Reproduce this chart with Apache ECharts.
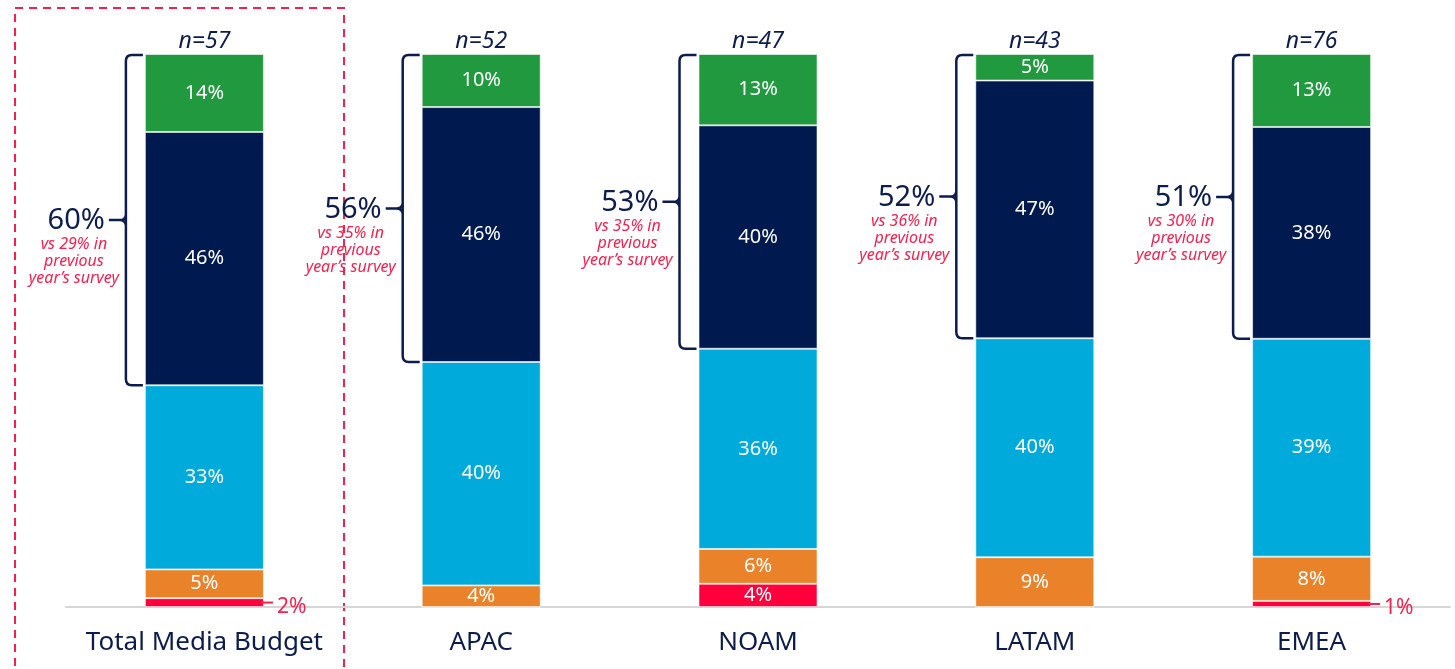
<!DOCTYPE html>
<html>
<head>
<meta charset="utf-8">
<script src="https://cdn.jsdelivr.net/npm/echarts@6/dist/echarts.min.js"></script>
<style>
  html, body { margin: 0; padding: 0; background: #fff; }
  #chart { width: 1455px; height: 669px; }
</style>
</head>
<body>
<div id="chart"></div>
<script>
// 数据
const categories = ['Total Media Budget', 'APAC', 'NOAM', 'LATAM', 'EMEA']
const sampleSizes = ['n=57', 'n=52', 'n=47', 'n=43', 'n=76']
const redVals = [1.6, 0, 4.2, 0, 1.1]
const orangeVals = [5.2, 3.9, 6.3, 9.0, 8.0]
const cyanVals = [33.3, 40.4, 36.2, 39.6, 39.4]
const navyVals = [45.8, 46.1, 40.4, 46.6, 38.3]
const greenVals = [14.1, 9.6, 12.9, 4.8, 13.2]
const topTwoLabels = ['60%', '56%', '53%', '52%', '51%']
const priorNotes = ['vs 29% in', 'vs 35% in', 'vs 35% in', 'vs 36% in', 'vs 30% in']

const FONT = '"Noto Sans"'
const NAVY = '#0b1c4d'
const PINK = '#f5204e'
const BAR_W = 119

const pct = v => Math.round(v) + '%'

const segLabel = {
  show: true,
  color: '#fff',
  fontSize: 20,
  fontFamily: FONT,
  formatter: p => (p.value > 0 ? pct(p.value) : '')
}

const makeBar = (name, vals, color) => ({
  name,
  type: 'bar',
  stack: 'total',
  barWidth: BAR_W,
  data: vals,
  itemStyle: { color, borderColor: 'rgba(255,255,255,0.55)', borderWidth: 1 },
  label: segLabel
})

// 红色小值放到柱子右侧并带引线
const redData = redVals.map(v => {
  if (v > 0 && v < 3) {
    return {
      value: v,
      label: {
        show: true,
        position: 'right',
        distance: -3,
        formatter: p => '{ln|}{t|' + pct(p.value) + '}',
        rich: {
          ln: { width: 12, height: 2, backgroundColor: PINK },
          t: { color: PINK, fontSize: 21, fontFamily: FONT, padding: [8, 0, 0, 4] }
        }
      }
    }
  }
  return v
})

// 括号数据：[类目, 下沿(蓝色顶部), 上沿(总计)]
const bracketData = categories.map((c, i) => {
  const low = redVals[i] + orangeVals[i] + cyanVals[i]
  return [i, low, low + navyVals[i] + greenVals[i]]
})

const chart = echarts.init(document.getElementById('chart'))

chart.setOption({
  animation: false,
  grid: { left: 66, right: 5, top: 54, bottom: 62 },
  xAxis: [
    {
      type: 'category',
      data: categories,
      axisLine: { lineStyle: { color: '#d6d6d6', width: 2 } },
      axisTick: { show: false },
      axisLabel: { interval: 0, color: NAVY, fontSize: 26, fontFamily: FONT, margin: 23 }
    },
    {
      type: 'category',
      position: 'top',
      data: sampleSizes,
      axisLine: { show: false },
      axisTick: { show: false },
      axisLabel: { interval: 0, color: NAVY, fontSize: 23, fontStyle: 'italic', fontFamily: FONT, margin: 1 }
    }
  ],
  yAxis: { type: 'value', min: 0, max: 100, show: false },
  graphic: [
    {
      type: 'rect',
      shape: { x: 15, y: 8, width: 329, height: 700 },
      style: { fill: 'transparent', stroke: PINK, lineWidth: 2, lineDash: [8, 6] },
      z: 0
    }
  ],
  series: [
    {
      name: 'red',
      type: 'bar',
      stack: 'total',
      barWidth: BAR_W,
      data: redData,
      itemStyle: { color: '#ff003c', borderColor: 'rgba(255,255,255,0.55)', borderWidth: 1 },
      label: segLabel
    },
    makeBar('orange', orangeVals, '#e98228'),
    makeBar('cyan', cyanVals, '#00abdb'),
    makeBar('navy', navyVals, '#001a4f'),
    makeBar('green', greenVals, '#219a3f'),
    {
      type: 'custom',
      data: bracketData,
      encode: { x: 0, y: [1, 2] },
      clip: false,
      z: 5,
      renderItem: (params, api) => {
        const i = api.value(0)
        const topPt = api.coord([i, api.value(2)])
        const botPt = api.coord([i, api.value(1)])
        const barLeft = topPt[0] - BAR_W / 2
        const bx = barLeft - 19
        const t = topPt[1] + 1
        const b = botPt[1]
        const m = (t + b) / 2
        const rx = barLeft - 2
        const d = [
          'M', rx, t, 'L', bx + 6, t, 'Q', bx, t, bx, t + 6,
          'L', bx, b - 6, 'Q', bx, b, bx + 6, b, 'L', rx, b,
          'M', bx - 17, m, 'L', bx - 5, m,
          'M', bx - 6, m, 'Q', bx - 1, m, bx, m - 5,
          'M', bx - 6, m, 'Q', bx - 1, m, bx, m + 5
        ].join(' ')
        return {
          type: 'group',
          children: [
            {
              type: 'path',
              shape: { pathData: d },
              style: { fill: 'transparent', stroke: NAVY, lineWidth: 2.5 }
            },
            {
              type: 'text',
              style: {
                text: topTwoLabels[i],
                x: bx - 21,
                y: m + 1,
                align: 'right',
                verticalAlign: 'middle',
                fill: NAVY,
                font: '29px ' + FONT
              }
            },
            {
              type: 'text',
              style: {
                text: priorNotes[i] + '\nprevious\nyear\u2019s survey',
                x: bx - 52,
                y: m + 16,
                align: 'center',
                verticalAlign: 'top',
                lineHeight: 17,
                fill: PINK,
                font: 'italic 16px ' + FONT
              }
            }
          ]
        }
      }
    }
  ]
})
</script>
</body>
</html>
